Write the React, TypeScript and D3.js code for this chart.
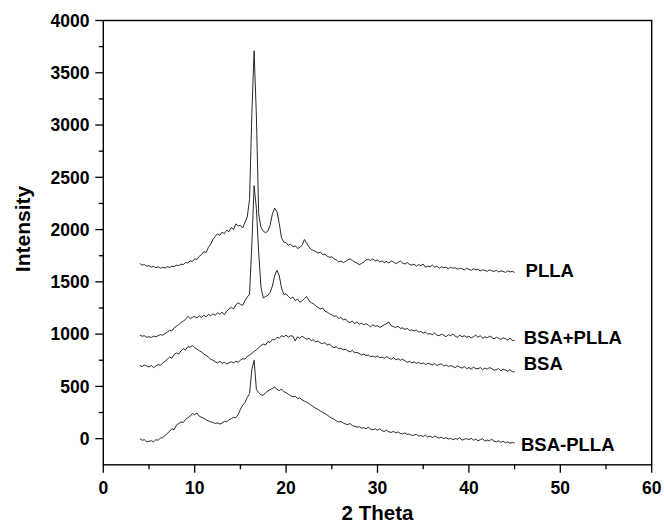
import React from "react";
import * as d3 from "d3";

const thetaStart = 4;
const thetaStep = 0.25;

const PLLA = [
  1675,1660,1665,1650, 1655,1640,1650,1635, 1645,1630,1640,1632, 1645,1638,1650,1645,
  1660,1655,1670,1665, 1685,1680,1700,1695, 1720,1715,1745,1760, 1790,1780,1830,1860,
  1905,1935,1960,1945, 1975,1960,1995,1980, 2020,2000,2055,2035, 2040,2015,2070,2120,
  2290,3100,3710,3080, 2150,2020,1985,1970, 1985,2040,2150,2205, 2170,2060,1920,1880,
  1875,1850,1860,1835, 1845,1820,1830,1850, 1905,1870,1835,1810, 1800,1790,1775,1785,
  1760,1765,1745,1735, 1740,1720,1710,1690, 1700,1685,1695,1710, 1720,1705,1690,1680,
  1665,1675,1690,1710, 1715,1705,1720,1700, 1710,1690,1700,1685, 1695,1680,1700,1690,
  1675,1685,1700,1680, 1670,1685,1665,1660, 1670,1650,1665,1655, 1670,1640,1650,1645,
  1660,1640,1650,1630, 1645,1635,1640,1625, 1640,1630,1635,1620, 1630,1625,1615,1630,
  1620,1610,1625,1615, 1620,1605,1615,1610, 1600,1615,1605,1600, 1610,1595,1605,1600,
  1590,1605,1595,1600, 1590,
];

const BSA_PLUS_PLLA = [
  990,980,985,970, 975,968,980,975, 985,995,990,1005, 1020,1035,1030,1060,
  1075,1090,1110,1125, 1140,1170,1150,1160, 1170,1155,1175,1160, 1180,1165,1190,1175,
  1195,1180,1205,1190, 1210,1185,1220,1240, 1255,1240,1280,1300, 1285,1275,1320,1355,
  1380,1850,2420,2200, 1780,1450,1345,1360, 1370,1400,1460,1560, 1610,1560,1440,1380,
  1385,1360,1340,1355, 1320,1335,1305,1320, 1340,1360,1320,1300, 1290,1270,1255,1240,
  1250,1220,1210,1195, 1185,1170,1175,1150, 1160,1135,1145,1120, 1110,1125,1100,1115,
  1095,1105,1090,1100, 1085,1070,1090,1075, 1080,1065,1075,1090, 1100,1115,1080,1070,
  1065,1075,1055,1060, 1045,1055,1035,1040, 1030,1040,1020,1025, 1010,1020,1000,1005,
  995,1010,990,985, 1000,990,975,995, 985,1000,980,970, 990,975,985,970,
  980,965,975,990, 970,985,960,975, 965,980,970,955, 970,960,950,965,
  955,945,960,940, 940,
];

const BSA = [
  700,690,705,695, 685,700,680,695, 710,700,725,740, 760,780,770,805,
  820,810,840,860, 850,880,875,890, 870,855,840,830, 810,795,780,760,
  750,735,725,740, 720,730,715,725, 735,725,740,730, 750,765,760,785,
  800,815,835,850, 870,890,905,895, 930,920,950,945, 970,960,985,975,
  990,970,985,980, 935,975,960,980, 965,950,960,940, 945,925,935,915,
  910,920,895,905, 885,870,880,860, 865,850,855,840, 830,845,820,825,
  815,800,810,795, 800,785,790,780, 790,775,780,770, 785,770,760,775,
  755,765,750,760, 745,730,740,725, 735,720,730,715, 725,710,720,715,
  705,720,700,710, 715,695,705,690, 700,690,680,695, 685,675,690,670,
  680,665,685,670, 670,680,660,675, 665,680,670,655, 660,670,650,665,
  655,645,660,640, 640,
];

const BSA_MINUS_PLLA = [
  0,-15,-10,-30, -25,-20,-30,-10, -15,5,10,30, 50,70,95,85,
  130,145,160,155, 185,200,215,240, 230,245,215,205, 195,180,170,160,
  155,145,150,140, 150,165,160,180, 190,205,200,230, 280,320,345,395,
  430,660,750,470, 440,420,415,440, 455,470,480,495, 470,460,475,450,
  440,425,410,400, 405,385,390,370, 360,350,335,320, 305,290,280,265,
  250,240,225,210, 195,185,170,160, 165,150,140,135, 145,125,120,110,
  115,100,105,95, 110,90,85,95, 80,95,75,70, 80,65,60,70,
  55,65,50,45, 55,40,45,30, 35,40,25,30, 20,35,15,25,
  10,25,15,5, 15,0,10,-5, 5,-10,0,-5, 10,-15,-5,0,
  -10,5,-15,-5, -20,-10,0,-25, -15,-20,-5,-25, -30,-20,-35,-25,
  -40,-30,-45,-35, -42,
];

const seriesNames = ["PLLA", "BSA+PLLA", "BSA", "BSA-PLLA"];
const seriesData = [PLLA, BSA_PLUS_PLLA, BSA, BSA_MINUS_PLLA];
const labelTheta = [46.2, 46.0, 46.0, 45.7];
const labelIntensity = [1548, 903, 654, -117];

const xTicksMajor = [0, 10, 20, 30, 40, 50, 60];
const xTicksMinor = [5, 15, 25, 35, 45, 55];
const yTicksMajor = [0, 500, 1000, 1500, 2000, 2500, 3000, 3500, 4000];
const yTicksMinor = [250, 750, 1250, 1750, 2250, 2750, 3250, 3750];

const W = 664;
const H = 523;
const FONT = "'Liberation Sans', Arial, Helvetica, sans-serif";

export default function App() {
  const x = d3.scaleLinear().domain([0, 60]).range([103.3, 651.7]);
  const y = d3.scaleLinear().domain([-250, 4000]).range([464.8, 20.5]);
  const line = d3
    .line<[number, number]>()
    .x((d) => x(d[0]))
    .y((d) => y(d[1]));

  const [x0, x1] = x.range();
  const [y0, y1] = y.range();

  return (
    <svg
      width={W}
      height={H}
      style={{ position: "absolute", left: 0, top: 0, background: "#fff" }}
      fontFamily={FONT}
    >
      <rect x={0} y={0} width={W} height={H} fill="#fff" />
      {seriesData.map((vals, si) => (
        <path
          key={si}
          d={line(vals.map((v, i) => [thetaStart + i * thetaStep, v] as [number, number])) || ""}
          fill="none"
          stroke="#111"
          strokeWidth={0.9}
          strokeLinejoin="round"
        />
      ))}
      <rect
        x={x0}
        y={y1}
        width={x1 - x0}
        height={y0 - y1}
        fill="none"
        stroke="#000"
        strokeWidth={1.4}
      />
      {yTicksMajor.map((t) => (
        <g key={"ym" + t}>
          <line x1={x0 - 8} x2={x0} y1={y(t)} y2={y(t)} stroke="#000" strokeWidth={1.3} />
          <text
            x={89.5}
            y={y(t) + 6.2}
            textAnchor="end"
            fontSize={17.5}
            fontWeight="bold"
          >
            {t}
          </text>
        </g>
      ))}
      {yTicksMinor.map((t) => (
        <line key={"yn" + t} x1={x0 - 4.5} x2={x0} y1={y(t)} y2={y(t)} stroke="#000" strokeWidth={1.3} />
      ))}
      {xTicksMajor.map((t) => (
        <g key={"xm" + t}>
          <line x1={x(t)} x2={x(t)} y1={y0} y2={y0 + 8} stroke="#000" strokeWidth={1.3} />
          <text x={x(t)} y={493.5} textAnchor="middle" fontSize={17.5} fontWeight="bold">
            {t}
          </text>
        </g>
      ))}
      {xTicksMinor.map((t) => (
        <line key={"xn" + t} x1={x(t)} x2={x(t)} y1={y0} y2={y0 + 4.5} stroke="#000" strokeWidth={1.3} />
      ))}
      <text
        x={(x0 + x1) / 2}
        y={519.5}
        textAnchor="middle"
        fontSize={20.5}
        fontWeight="bold"
      >
        2 Theta
      </text>
      <text
        transform={`translate(30,229) rotate(-90)`}
        textAnchor="middle"
        fontSize={21}
        fontWeight="bold"
      >
        Intensity
      </text>
      {seriesNames.map((n, i) => (
        <text
          key={n}
          x={x(labelTheta[i])}
          y={y(labelIntensity[i])}
          fontSize={18.5}
          fontWeight="bold"
        >
          {n}
        </text>
      ))}
    </svg>
  );
}
